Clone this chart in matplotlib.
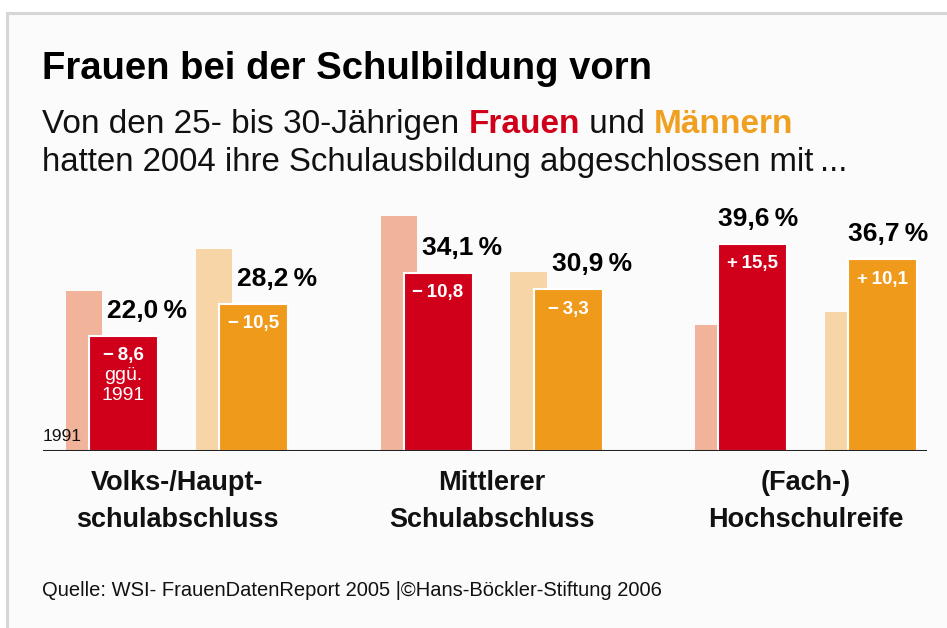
import matplotlib
matplotlib.use("Agg")
import matplotlib.pyplot as plt
from matplotlib.patches import Rectangle
from matplotlib.transforms import blended_transform_factory

# --- data (percent of 25-30 year olds, 2004, and change vs. 1991) ---
categories = [["Volks-/Haupt-", "schulabschluss"],
              ["Mittlerer", "Schulabschluss"],
              ["(Fach-)", "Hochschulreife"]]
women_2004 = [22.0, 34.1, 39.6]
women_change = [-8.6, -10.8, 15.5]
men_2004 = [28.2, 30.9, 36.7]
men_change = [-10.5, -3.3, 10.1]

women_1991 = [v - c for v, c in zip(women_2004, women_change)]
men_1991 = [v - c for v, c in zip(men_2004, men_change)]

# colours
RED = "#d0001b"
RED_LIGHT = "#f2b39b"
ORANGE = "#f09a1c"
ORANGE_LIGHT = "#f7d5a7"
FONT = "Liberation Sans"

W, H = 947, 628
fig = plt.figure(figsize=(W / 100, H / 100), dpi=100)
fig.patch.set_facecolor("white")

def fx(px):
    return px / W

def fy(py):
    return 1 - py / H

# light grey frame round the graphic
fig.add_artist(Rectangle((fx(7), -0.05), 1.2, fy(13) + 0.05, transform=fig.transFigure,
                         facecolor="#fbfbfb", edgecolor="#d6d6d6", lw=2.2, zorder=0))

# axes: baseline at y=451px, 5.23 px per percent, one group = 314.5 px
GROUP_PX = 314.5
PX_PER_PCT = 5.23
top_px = 451 - 50 * PX_PER_PCT
ax = fig.add_axes([fx(43), fy(451), fx(927) - fx(43), (451 - top_px) / H])
ax.set_xlim((43 - 177) / GROUP_PX, (927 - 177) / GROUP_PX)
ax.set_ylim(0, 50)
ax.axis("off")

light_w = 36 / GROUP_PX
dark_w = 69 / GROUP_PX
offsets = {"w_light": -111 / GROUP_PX, "w_dark": -88 / GROUP_PX,
           "m_light": 19 / GROUP_PX, "m_dark": 42 / GROUP_PX}
gap = 5 / GROUP_PX
lab_up = 18 / PX_PER_PCT
chg_down = 20 / PX_PER_PCT

def fmt_pct(v):
    return f"{v:.1f}".replace(".", ",") + "\u2009%"

def fmt_chg(c):
    sign = "+" if c > 0 else "\u2212"
    return sign + "\u2009" + f"{abs(c):.1f}".replace(".", ",")

for i in range(len(categories)):
    for old, new, chg, lk, dk, c_light, c_dark in [
            (women_1991[i], women_2004[i], women_change[i], "w_light", "w_dark", RED_LIGHT, RED),
            (men_1991[i], men_2004[i], men_change[i], "m_light", "m_dark", ORANGE_LIGHT, ORANGE)]:
        lx = i + offsets[lk]
        dx = i + offsets[dk]
        ax.bar(lx, old, width=light_w, align="edge", color=c_light, zorder=1)
        ax.bar(dx, new, width=dark_w, align="edge", color=c_dark,
               edgecolor="white", linewidth=1.5, zorder=2)
        tx = lx + light_w + gap if old > new else dx
        ax.text(tx, new + lab_up, fmt_pct(new), ha="left", va="baseline",
                fontsize=19, fontweight="bold", family=FONT, color="black", zorder=4)
        ax.text(dx + dark_w / 2, new - chg_down, fmt_chg(chg), ha="center", va="center",
                fontsize=13.5, fontweight="bold", family=FONT, color="white", zorder=4)

# note in the first red bar
ax.text(offsets["w_dark"] + dark_w / 2, women_2004[0] - chg_down - 20 / PX_PER_PCT, "ggü.",
        ha="center", va="center", fontsize=14, family=FONT, color="white", zorder=4)
ax.text(offsets["w_dark"] + dark_w / 2, women_2004[0] - chg_down - 40 / PX_PER_PCT, "1991",
        ha="center", va="center", fontsize=14, family=FONT, color="white", zorder=4)
ax.text(ax.get_xlim()[0], 10 / PX_PER_PCT, "1991", ha="left", va="baseline",
        fontsize=12.5, family=FONT, color="#111111", zorder=4)

ax.axhline(0, color="#222222", lw=2.2, zorder=5)

# category labels below baseline
trans = blended_transform_factory(ax.transData, fig.transFigure)
for i, (l1, l2) in enumerate(categories):
    ax.text(i, fy(490), l1, transform=trans, ha="center", va="baseline",
            fontsize=19.5, fontweight="bold", family=FONT, color="#111111")
    ax.text(i, fy(527), l2, transform=trans, ha="center", va="baseline",
            fontsize=19.5, fontweight="bold", family=FONT, color="#111111")

# title and subtitle
fig.text(fx(42), fy(79), "Frauen bei der Schulbildung vorn", ha="left", va="baseline",
         fontsize=27.5, fontweight="bold", family=FONT, color="black")

renderer = fig.canvas.get_renderer()
x = fx(42)
for txt, col, wt in [("Von den 25- bis 30-Jährigen ", "#111111", "normal"),
                     ("Frauen", RED, "bold"),
                     (" und ", "#111111", "normal"),
                     ("Männern", "#f0a020", "bold")]:
    t = fig.text(x, fy(133), txt, ha="left", va="baseline", fontsize=24,
                 fontweight=wt, family=FONT, color=col)
    bb = t.get_window_extent(renderer=renderer)
    x += bb.width / W

fig.text(fx(42), fy(171), "hatten 2004 ihre Schulausbildung abgeschlossen mit\u2009...",
         ha="left", va="baseline", fontsize=23.8, family=FONT, color="#111111")

fig.text(fx(42), fy(596), "Quelle: WSI- FrauenDatenReport 2005 |©Hans-Böckler-Stiftung 2006",
         ha="left", va="baseline", fontsize=14.5, family=FONT, color="#111111")

fig.savefig("out.png", dpi=100, facecolor="white")
